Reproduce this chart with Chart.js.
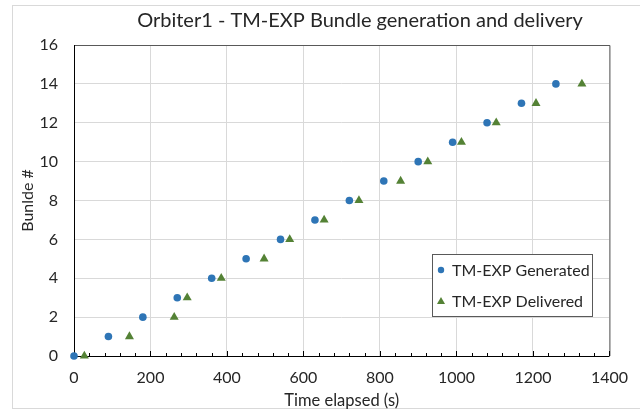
<!DOCTYPE html>
<html>
<head>
<meta charset="utf-8">
<script src="https://cdn.jsdelivr.net/npm/chart.js@4/dist/chart.umd.min.js"></script>
<style>
  html, body { margin: 0; padding: 0; background: #ffffff; }
  #wrap { position: relative; width: 640px; height: 411px; }
</style>
</head>
<body>
<div id="wrap"><canvas id="c" width="640" height="411"></canvas></div>
<script>
const chartTitle = "Orbiter1 - TM-EXP Bundle generation and delivery";
const xAxisTitle = "Time elapsed (s)";
const yAxisTitle = "Bunlde #";
const seriesNames = ["TM-EXP Generated", "TM-EXP Delivered"];
const generatedTime = [0, 90, 180, 270, 360, 450, 540, 630, 720, 810, 900, 990, 1080, 1170, 1260];
const generatedBundle = [0, 1, 2, 3, 4, 5, 6, 7, 8, 9, 10, 11, 12, 13, 14];
const deliveredTime = [27, 145, 262, 296, 385, 497, 564, 654, 745, 854, 925, 1013, 1104, 1208, 1328];
const deliveredBundle = [0, 1, 2, 3, 4, 5, 6, 7, 8, 9, 10, 11, 12, 13, 14];
const xMin = 0, xMax = 1400, xStep = 200, xMinorStep = 40;
const yMin = 0, yMax = 16, yStep = 2;

const FONT = "Lato, 'Open Sans', sans-serif";
const BLUE = "#2E75B6";
const GREEN = "#548235";
const TEXT = "#262626";

const toPoints = (xs, ys) => xs.map((x, i) => ({ x: x, y: ys[i] }));

const decorPlugin = {
  id: 'decor',
  beforeDraw(chart) {
    const ctx = chart.ctx;
    ctx.save();
    ctx.fillStyle = '#ffffff';
    ctx.fillRect(0, 0, chart.width, chart.height);
    ctx.strokeStyle = '#d9d9d9';
    ctx.lineWidth = 1;
    ctx.strokeRect(12.5, 5.5, 700, 403);
    ctx.fillStyle = TEXT;
    ctx.font = "20px " + FONT;
    ctx.textAlign = 'center';
    ctx.textBaseline = 'middle';
    ctx.fillText(chartTitle, 360, 21);
    ctx.restore();
  },
  beforeDatasetsDraw(chart) {
    const ctx = chart.ctx;
    const a = chart.chartArea;
    const xs = chart.scales.x;
    ctx.save();
    ctx.lineWidth = 1;
    ctx.strokeStyle = '#595959';
    ctx.beginPath();
    ctx.moveTo(a.left, a.top + 0.5);
    ctx.lineTo(a.right + 0.5, a.top + 0.5);
    ctx.lineTo(a.right + 0.5, a.bottom);
    ctx.stroke();
    ctx.strokeStyle = '#000000';
    ctx.beginPath();
    ctx.moveTo(a.left + 0.5, a.top);
    ctx.lineTo(a.left + 0.5, a.bottom + 0.5);
    ctx.lineTo(a.right, a.bottom + 0.5);
    ctx.stroke();
    ctx.beginPath();
    for (let v = xMin; v <= xMax; v += xMinorStep) {
      const px = Math.round(xs.getPixelForValue(v)) + 0.5;
      const len = (v % xStep === 0) ? 5 : 3;
      ctx.moveTo(px, a.bottom);
      ctx.lineTo(px, a.bottom - len);
    }
    ctx.stroke();
    ctx.restore();
  },
  afterDraw(chart) {
    const ctx = chart.ctx;
    ctx.save();
    const lx = 432, ly = 254, lw = 160, lh = 62;
    ctx.fillStyle = '#ffffff';
    ctx.fillRect(lx, ly, lw, lh);
    ctx.strokeStyle = '#595959';
    ctx.lineWidth = 1;
    ctx.strokeRect(lx + 0.5, ly + 0.5, lw, lh);
    ctx.font = "16px " + FONT;
    ctx.textBaseline = 'middle';
    ctx.textAlign = 'left';
    const rows = [ly + 16, ly + 47];
    chart.data.datasets.forEach((ds, i) => {
      const cy = rows[i];
      ctx.fillStyle = ds.backgroundColor;
      ctx.beginPath();
      if (ds.pointStyle === 'circle') {
        ctx.arc(441, cy, 3.2, 0, Math.PI * 2);
      } else {
        ctx.moveTo(441, cy - 4);
        ctx.lineTo(445, cy + 3);
        ctx.lineTo(437, cy + 3);
        ctx.closePath();
      }
      ctx.fill();
      ctx.fillStyle = TEXT;
      ctx.fillText(ds.label, 452, cy + 1);
    });
    ctx.restore();
  }
};

new Chart(document.getElementById('c'), {
  type: 'scatter',
  data: {
    datasets: [
      {
        label: seriesNames[0],
        data: toPoints(generatedTime, generatedBundle),
        pointStyle: 'circle',
        pointRadius: 3.8,
        pointHoverRadius: 3.8,
        backgroundColor: BLUE,
        borderColor: BLUE,
        borderWidth: 0,
        clip: false
      },
      {
        label: seriesNames[1],
        data: toPoints(deliveredTime, deliveredBundle),
        pointStyle: 'triangle',
        pointRadius: 5.2,
        pointHoverRadius: 5.2,
        backgroundColor: GREEN,
        borderColor: GREEN,
        borderWidth: 0,
        clip: false
      }
    ]
  },
  options: {
    responsive: false,
    animation: false,
    devicePixelRatio: 1,
    layout: { padding: { left: 0, top: 45, right: 17, bottom: 0 } },
    plugins: {
      legend: { display: false },
      title: { display: false },
      tooltip: { enabled: false }
    },
    scales: {
      x: {
        type: 'linear',
        min: xMin, max: xMax,
        border: { display: false },
        grid: { color: '#d9d9d9', lineWidth: 1, drawTicks: false },
        ticks: { stepSize: xStep, padding: 12, color: TEXT, font: { family: FONT, size: 16 },
                 callback: (v) => String(v) },
        title: { display: true, text: xAxisTitle, color: TEXT, font: { family: FONT, size: 16.5 }, padding: { top: 1, bottom: 0 } },
        afterFit(scale) { scale.height = 55; }
      },
      y: {
        type: 'linear',
        min: yMin, max: yMax,
        border: { display: false },
        grid: { color: '#d9d9d9', lineWidth: 1, drawTicks: false },
        ticks: { stepSize: yStep, padding: 16, color: TEXT, font: { family: FONT, size: 16 },
                 callback: (v) => String(v) },
        title: { display: true, text: yAxisTitle, color: TEXT, font: { family: FONT, size: 16 }, padding: { top: 18, bottom: 0 } },
        afterFit(scale) { scale.width = 74; }
      }
    }
  },
  plugins: [decorPlugin]
});
</script>
</body>
</html>
